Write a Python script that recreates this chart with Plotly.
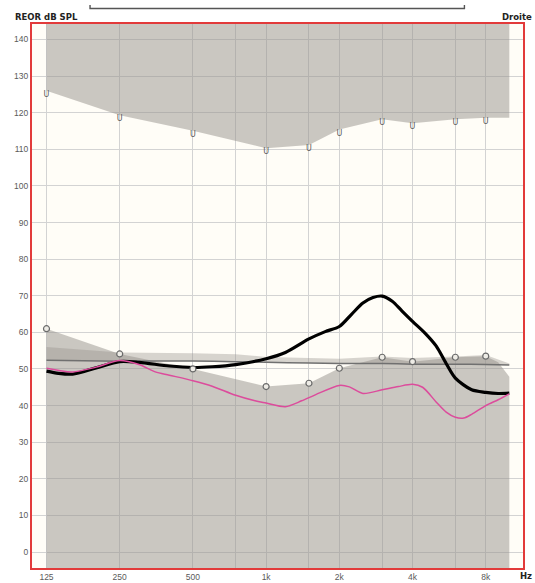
import plotly.graph_objects as go

# ---------------- data ----------------
# uncomfortable level (U markers)
ucl_freq = [125, 250, 500, 1000, 1500, 2000, 3000, 4000, 6000, 8000]
ucl_val = [126, 119.3, 115.1, 110.3, 111.2, 115.4, 118.2, 117.1, 118.2, 118.6]
ucl_end_freq = 10000

# threshold (circles) and gray area boundary
thr_freq = [125, 250, 500, 1000, 1500, 2000, 3000, 4000, 6000, 8000]
thr_val = [61, 54.1, 50, 45.2, 46.1, 50.2, 53.2, 52, 53.2, 53.5]
thr_tail_freq = [9000, 10000]
thr_tail_val = [51.8, 47.9]

# speech band (upper edge) and its median line (dark gray)
band_freq = [125, 250, 500, 750, 1000, 1500, 2000, 3000, 4000, 6000, 8000, 10000]
band_upper = [56, 54.5, 54.3, 54, 53.3, 53, 52.8, 53.4, 53, 53.4, 53.8, 51.5]
band_line = [52.4, 52.1, 52.2, 52, 51.8, 51.6, 51.5, 51.5, 51.3, 51.3, 51.2, 51.1]

# aided response (black thick)
black_freq = [125, 140, 160, 200, 250, 300, 400, 500, 600, 750, 1000, 1200, 1500, 1750,
              2000, 2250, 2500, 2750, 3000, 3300, 3600, 4000, 4500, 5000, 5500, 6000,
              7000, 8000, 9000, 10000]
black_val = [49.4, 48.8, 48.6, 50.3, 52.0, 51.8, 50.8, 50.4, 50.6, 51.2, 52.8, 54.5, 58.2, 60.2,
             61.6, 65.0, 68.0, 69.5, 69.9, 68.5, 66.0, 63.0, 59.8, 56.3, 51.5, 47.5,
             44.3, 43.6, 43.3, 43.4]

# target / other response (pink)
pink_freq = [125, 160, 200, 250, 300, 350, 400, 500, 600, 750, 900, 1000, 1200, 1400, 1600,
             2000, 2200, 2500, 3000, 3500, 4000, 4400, 5000, 5500, 6000, 6500, 7000, 8000,
             9000, 10000]
pink_val = [50.2, 49.2, 50.5, 52.3, 51.2, 49.2, 48.3, 46.8, 45.3, 42.8, 41.3, 40.7, 39.7, 41.3, 43.0,
            45.5, 45.1, 43.3, 44.3, 45.2, 45.8, 45.0, 41.0, 38.2, 36.8, 36.6, 37.6, 40.0,
            41.6, 43.2]

x_tickvals = [125, 250, 500, 750, 1000, 1500, 2000, 3000, 4000, 6000, 8000]
x_ticktext = ["125", "250", "500", "", "1k", "", "2k", "", "4k", "", "8k"]
y_tickvals = list(range(0, 150, 10))

Y_MIN, Y_MAX = -4.37, 144.23
X_MIN, X_MAX = 2.0373, 4.0563  # log10 range

# ---------------- style ----------------
CREAM = "#fffdf7"
FILL = "rgba(150,145,140,0.5)"
BAND = "rgba(150,145,140,0.38)"

fig = go.Figure()

# lower gray area (threshold)
lf_x = thr_freq + thr_tail_freq
lf_y = thr_val + thr_tail_val
fig.add_trace(go.Scatter(
    x=lf_x + lf_x[::-1], y=lf_y + [Y_MIN - 5] * len(lf_x),
    fill="toself", fillcolor=FILL, mode="none", hoverinfo="skip", showlegend=False))

# speech band
fig.add_trace(go.Scatter(
    x=band_freq + band_freq[::-1], y=band_upper + band_line[::-1],
    fill="toself", fillcolor=BAND, mode="none", hoverinfo="skip", showlegend=False))

# band median line
fig.add_trace(go.Scatter(
    x=band_freq, y=band_line, mode="lines",
    line=dict(color="#707070", width=1.5, shape="spline", smoothing=0.6),
    showlegend=False, hoverinfo="skip"))

# upper gray area (UCL)
uf_x = ucl_freq + [ucl_end_freq]
uf_y = ucl_val + [ucl_val[-1]]
fig.add_trace(go.Scatter(
    x=uf_x + [uf_x[-1], uf_x[0]], y=uf_y + [Y_MAX + 5, Y_MAX + 5],
    fill="toself", fillcolor=FILL, mode="none", hoverinfo="skip", showlegend=False))

# black response
fig.add_trace(go.Scatter(
    x=black_freq, y=black_val, mode="lines",
    line=dict(color="#000000", width=3.2, shape="spline", smoothing=0.8),
    showlegend=False, hoverinfo="skip"))

# pink response
fig.add_trace(go.Scatter(
    x=pink_freq, y=pink_val, mode="lines",
    line=dict(color="#dc4c9c", width=1.5, shape="spline", smoothing=0.8),
    showlegend=False, hoverinfo="skip"))

# threshold circles
fig.add_trace(go.Scatter(
    x=thr_freq, y=thr_val, mode="markers",
    marker=dict(symbol="circle", size=6, color="#eeece6",
                line=dict(color="#6a6a6a", width=1.2)),
    showlegend=False, hoverinfo="skip"))

# U markers
fig.add_trace(go.Scatter(
    x=ucl_freq, y=ucl_val, mode="text", text=["U"] * len(ucl_freq),
    textposition="bottom center",
    textfont=dict(family="DejaVu Sans", size=8, color="#5a5a5a"),
    showlegend=False, hoverinfo="skip"))

fig.update_layout(
    width=535, height=583,
    margin=dict(l=32, r=12, t=24, b=15, pad=0),
    paper_bgcolor="white", plot_bgcolor=CREAM,
    font=dict(family="Liberation Sans", size=8.5, color="#555555"),
    xaxis=dict(type="log", range=[X_MIN, X_MAX], tickvals=x_tickvals, ticktext=x_ticktext,
               showgrid=True, gridcolor="#d3d3d3", gridwidth=1, zeroline=False,
               showline=True, linecolor="#e23a3a", linewidth=2, mirror=True,
               automargin=False,
               ticks="", tickfont=dict(size=8.5, color="#5a5a5a")),
    yaxis=dict(range=[Y_MIN, Y_MAX], tickvals=y_tickvals,
               showgrid=True, gridcolor="#d3d3d3", gridwidth=1, zeroline=False,
               showline=True, linecolor="#e23a3a", linewidth=2, mirror=True,
               automargin=False,
               ticks="", tickfont=dict(size=8.5, color="#5a5a5a")),
    annotations=[
        dict(text="<b>REOR dB SPL</b>", xref="paper", yref="paper", x=-0.0387, y=1.0129,
             xanchor="left", yanchor="middle", showarrow=False,
             font=dict(family="DejaVu Sans", size=8.5, color="#222222")),
        dict(text="<b>Droite</b>", xref="paper", yref="paper", x=1.0224, y=1.0129,
             xanchor="right", yanchor="middle", showarrow=False,
             font=dict(family="DejaVu Sans", size=8.5, color="#222222")),
        dict(text="<b>Hz</b>", xref="paper", yref="paper", x=1.0224, y=-0.0147,
             xanchor="right", yanchor="middle", showarrow=False,
             font=dict(family="DejaVu Sans", size=8.5, color="#222222")),
    ],
    shapes=[
        dict(type="path", xref="paper", yref="paper",
             path="M 0.1182 1.035 L 0.1182 1.0285 L 0.8807 1.0285 L 0.8807 1.035",
             line=dict(color="#555555", width=1.4)),
    ],
)

fig.write_html("out.html", config={"displayModeBar": False},
               post_script="document.body.style.margin='0';document.body.style.overflow='hidden';")
